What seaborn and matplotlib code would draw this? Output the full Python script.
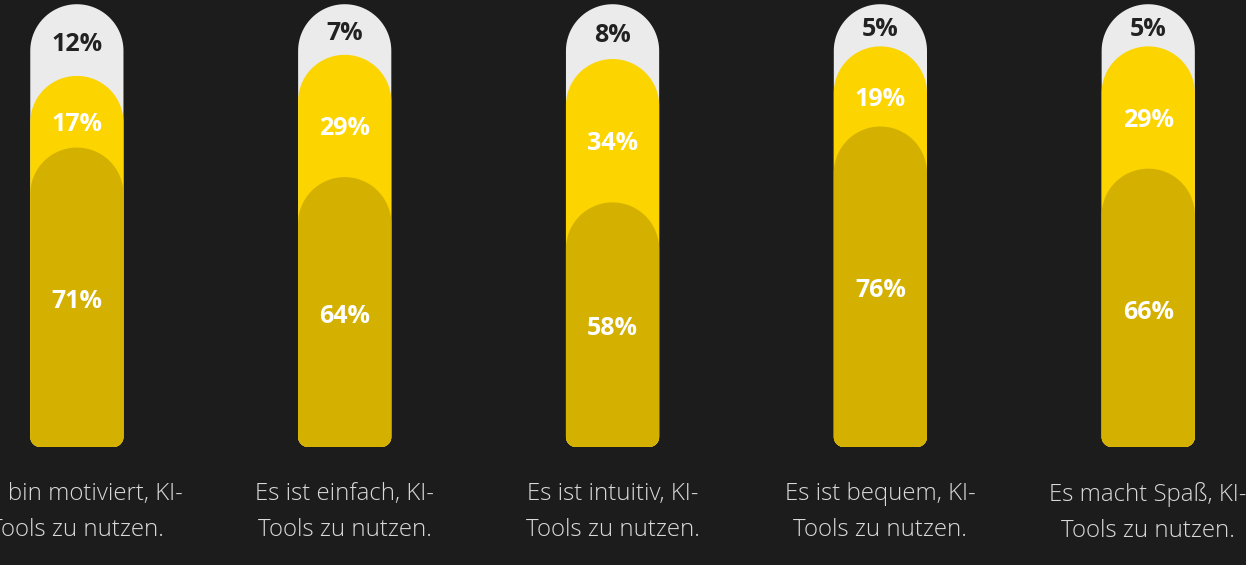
import matplotlib
matplotlib.use('Agg')
import matplotlib.pyplot as plt
from matplotlib.path import Path
from matplotlib.patches import PathPatch
import seaborn as sns
import numpy as np
import pandas as pd

# survey answers, in percent
categories = [
    'Ich bin motiviert, KI-\nTools zu nutzen.',
    'Es ist einfach, KI-\nTools zu nutzen.',
    'Es ist intuitiv, KI-\nTools zu nutzen.',
    'Es ist bequem, KI-\nTools zu nutzen.',
    'Es macht Spaß, KI-\nTools zu nutzen.',
]
stark = [71, 64, 58, 76, 66]   # dark yellow, bottom
eher = [17, 29, 34, 19, 29]    # yellow, middle
rest = [12, 7, 8, 5, 5]        # grey, top

BG = '#1c1c1c'
DARK = '#d4b000'
YELLOW = '#fcd400'
GREY = '#ebebeb'
TRACK_PAD = 5  # grey track sticks out a bit above 100 %
BAR_W = 0.348

sns.set_theme(style='dark', rc={'axes.facecolor': BG, 'figure.facecolor': BG})
plt.rcParams['font.family'] = ['Open Sans', 'DejaVu Sans']

df = pd.DataFrame({'cat': categories, 'stark': stark, 'eher': eher, 'rest': rest})
df['cum_eher'] = df['stark'] + df['eher']
df['track'] = df['cum_eher'] + df['rest'] + TRACK_PAD

fig = plt.figure(figsize=(12.46, 5.65), dpi=100)
ax = fig.add_axes([0, 118 / 565, 1, 447 / 565])

layers = [('track', GREY), ('cum_eher', YELLOW), ('stark', DARK)]
for col, c in layers:
    sns.barplot(data=df, x='cat', y=col, color=c, width=BAR_W, ax=ax,
                saturation=1, errorbar=None)

ax.set_xlim(-0.287, 4.365)
ax.set_ylim(0, 106)


def rounded_path(x0, w, h):
    p0 = ax.transData.transform((0, 0))
    p1 = ax.transData.transform((1, 1))
    pxx, pxy = p1[0] - p0[0], p1[1] - p0[1]
    ch = (w / 2) * pxx / pxy          # round cap, same size in pixels
    rbx, rby = 10 / pxx, 10 / pxy     # small bottom corners
    pts = []
    a = np.linspace(np.pi, 1.5 * np.pi, 15)
    pts += list(zip(x0 + rbx + rbx * np.cos(a), rby + rby * np.sin(a)))
    a = np.linspace(1.5 * np.pi, 2 * np.pi, 15)
    pts += list(zip(x0 + w - rbx + rbx * np.cos(a), rby + rby * np.sin(a)))
    a = np.linspace(0, np.pi, 80)
    pts += list(zip(x0 + w / 2 + (w / 2) * np.cos(a), h - ch + ch * np.sin(a)))
    pts.append(pts[0])
    return Path(pts, closed=True)


old = list(ax.patches)
for p in old:
    verts = rounded_path(p.get_x(), p.get_width(), p.get_height())
    ax.add_patch(PathPatch(verts, facecolor=p.get_facecolor(), edgecolor='none',
                           zorder=p.get_zorder()))
    p.remove()

for i in range(len(categories)):
    ax.text(i, stark[i] / 2 - 1, f'{stark[i]}%', ha='center', va='center',
            color='white', fontsize=18, fontweight='bold', zorder=5)
    ax.text(i, stark[i] + eher[i] / 2 - 3, f'{eher[i]}%', ha='center', va='center',
            color='white', fontsize=18, fontweight='bold', zorder=5)
    top = stark[i] + eher[i]
    ax.text(i, (top + 100 + TRACK_PAD) / 2 - 1, f'{rest[i]}%', ha='center',
            va='center', color='#222222', fontsize=18, fontweight='bold', zorder=5)

ax.set_xticks(range(len(categories)))
ax.set_xticklabels(categories, fontsize=17.3, color='#d9d9d9', linespacing=1.68,
                   fontweight='light')
ax.tick_params(axis='x', length=0, pad=25)
ax.set_yticks([])
ax.set_xlabel('')
ax.set_ylabel('')
ax.grid(False)
for s in ax.spines.values():
    s.set_visible(False)

fig.savefig('out.png', dpi=100, facecolor=BG)
